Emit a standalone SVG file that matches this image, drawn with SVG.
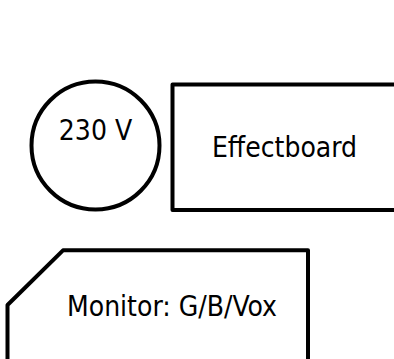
<svg xmlns="http://www.w3.org/2000/svg" width="394" height="359" viewBox="0 0 394 359">
<style>
.shape{fill:#fff;stroke:#000;stroke-width:4;stroke-linejoin:round}
.lbl{font-family:"DejaVu Sans Condensed","DejaVu Sans",sans-serif;font-stretch:condensed;font-size:28px;fill:#000;text-anchor:middle}
</style>
<rect width="394" height="359" fill="#fff"/>
<g id="connectors"></g>
<g id="power">
<circle class="shape" cx="95.5" cy="145.5" r="64"/>
<text class="lbl" x="95.5" y="139.5">230 V</text>
</g>
<g id="effectboard">
<rect class="shape" x="172.5" y="84.5" width="224" height="125.5"/>
<text class="lbl" x="284.5" y="156.5">Effectboard</text>
</g>
<g id="monitor">
<path class="shape" d="M7.5 365 L7.5 305 L63 250.3 L308 250.3 L308 365"/>
<text class="lbl" x="172" y="315.5">Monitor: G/B/Vox</text>
</g>
</svg>
